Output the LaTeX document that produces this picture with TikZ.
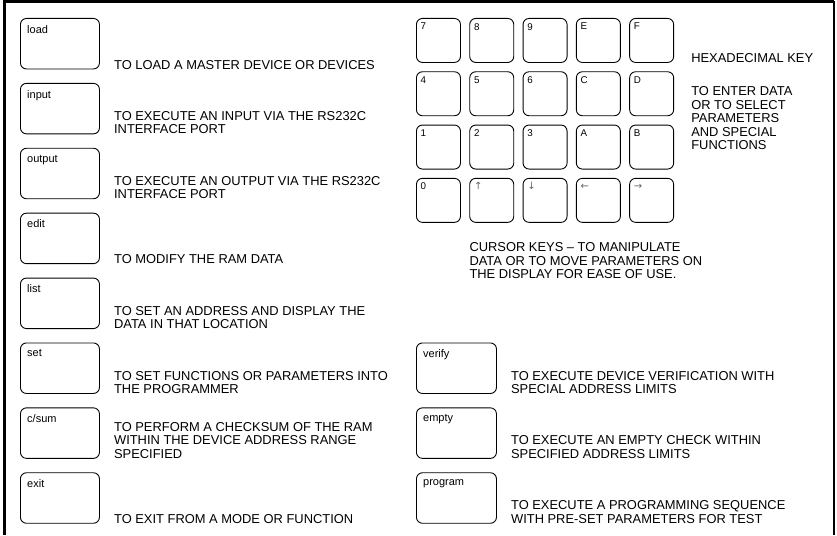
\documentclass[tikz,border=0pt]{standalone}
\usepackage{fontspec}
\setmainfont{Liberation Sans}
\newfontfamily\arrowfont{DejaVu Sans}
\usetikzlibrary{positioning}

\begin{document}
\begin{tikzpicture}[x=1pt,y=1pt, every node/.style={inner sep=0pt}]
  \def\fkw{79}
  \def\fkh{50.5}
  \def\hk{44}
  \def\leftx{20}
  \def\rightx{416}

  \tikzset{
    frame/.style={line width=2.6pt},
    fkey/.style={draw, line width=0.9pt, rounded corners=6pt, anchor=north west,
                 minimum width=\fkw pt, minimum height=\fkh pt},
    hkey/.style={draw, line width=0.9pt, rounded corners=6pt, anchor=north west,
                 minimum width=\hk pt, minimum height=\hk pt},
    flab/.style={anchor=north west, font=\fontsize{11}{13}\selectfont},
    hlab/.style={anchor=north west, font=\fontsize{9.8}{11}\selectfont},
    alab/.style={anchor=north west, font=\arrowfont\fontsize{10}{11}\selectfont, text=black!60},
    desc/.style={anchor=south west, align=left, font=\fontsize{12.9}{13.5}\selectfont}
  }

  % fixed page size
  \path[use as bounding box] (0,0) rectangle (837,-535);

  % outer frame, open at the bottom
  \draw[frame] (4.2,-535) -- (4.2,-1.5) -- (834,-1.5);
  \draw[line width=1.4pt] (834,-1.5) -- (834,-535);

  % function keys, left column
  \node[fkey] (kload)   at (\leftx, -18.0) {};
  \node[fkey] (kinput)  at (\leftx, -82.9) {};
  \node[fkey] (koutput) at (\leftx, -147.8) {};
  \node[fkey] (kedit)   at (\leftx, -212.7) {};
  \node[fkey] (klist)   at (\leftx, -277.6) {};
  \node[fkey] (kset)    at (\leftx, -342.5) {};
  \node[fkey] (kcsum)   at (\leftx, -407.4) {};
  \node[fkey] (kexit)   at (\leftx, -472.3) {};

  \node[flab] (lload)   at ([shift={(7,-7)}]kload.north west)   {load};
  \node[flab] (linput)  at ([shift={(7,-7)}]kinput.north west)  {input};
  \node[flab] (loutput) at ([shift={(7,-7)}]koutput.north west) {output};
  \node[flab] (ledit)   at ([shift={(7,-7)}]kedit.north west)   {edit};
  \node[flab] (llist)   at ([shift={(7,-7)}]klist.north west)   {list};
  \node[flab] (lset)    at ([shift={(7,-7)}]kset.north west)    {set};
  \node[flab] (lcsum)   at ([shift={(7,-7)}]kcsum.north west)   {c/sum};
  \node[flab] (lexit)   at ([shift={(7,-7)}]kexit.north west)   {exit};

  \node[desc] (dload)   at ([xshift=14pt]kload.south east)   {TO LOAD A MASTER DEVICE OR DEVICES};
  \node[desc] (dinput)  at ([xshift=14pt]kinput.south east)  {TO EXECUTE AN INPUT VIA THE RS232C\\INTERFACE PORT};
  \node[desc] (doutput) at ([xshift=14pt]koutput.south east) {TO EXECUTE AN OUTPUT VIA THE RS232C\\INTERFACE PORT};
  \node[desc] (dedit)   at ([xshift=14pt]kedit.south east)   {TO MODIFY THE RAM DATA};
  \node[desc] (dlist)   at ([xshift=14pt]klist.south east)   {TO SET AN ADDRESS AND DISPLAY THE\\DATA IN THAT LOCATION};
  \node[desc] (dset)    at ([xshift=14pt]kset.south east)    {TO SET FUNCTIONS OR PARAMETERS INTO\\THE PROGRAMMER};
  \node[desc] (dcsum)   at ([xshift=14pt]kcsum.south east)   {TO PERFORM A CHECKSUM OF THE RAM\\WITHIN THE DEVICE ADDRESS RANGE\\SPECIFIED};
  \node[desc] (dexit)   at ([xshift=14pt]kexit.south east)   {TO EXIT FROM A MODE OR FUNCTION};

  % hexadecimal keypad
  \node[hkey] (k7) at (416.0, -18.0) {};
  \node[hkey] (k8) at (469.3, -18.0) {};
  \node[hkey] (k9) at (522.6, -18.0) {};
  \node[hkey] (kE) at (575.9, -18.0) {};
  \node[hkey] (kF) at (629.2, -18.0) {};
  \node[hkey] (k4) at (416.0, -71.3) {};
  \node[hkey] (k5) at (469.3, -71.3) {};
  \node[hkey] (k6) at (522.6, -71.3) {};
  \node[hkey] (kC) at (575.9, -71.3) {};
  \node[hkey] (kD) at (629.2, -71.3) {};
  \node[hkey] (k1) at (416.0, -124.6) {};
  \node[hkey] (k2) at (469.3, -124.6) {};
  \node[hkey] (k3) at (522.6, -124.6) {};
  \node[hkey] (kA) at (575.9, -124.6) {};
  \node[hkey] (kB) at (629.2, -124.6) {};
  \node[hkey] (k0)     at (416.0, -177.9) {};
  \node[hkey] (kup)    at (469.3, -177.9) {};
  \node[hkey] (kdown)  at (522.6, -177.9) {};
  \node[hkey] (kleft)  at (575.9, -177.9) {};
  \node[hkey] (kright) at (629.2, -177.9) {};

  \node[hlab] (l7) at ([shift={(4.5,-5)}]k7.north west) {7};
  \node[hlab] (l8) at ([shift={(4.5,-5)}]k8.north west) {8};
  \node[hlab] (l9) at ([shift={(4.5,-5)}]k9.north west) {9};
  \node[hlab] (lE) at ([shift={(4.5,-5)}]kE.north west) {E};
  \node[hlab] (lF) at ([shift={(4.5,-5)}]kF.north west) {F};
  \node[hlab] (l4) at ([shift={(4.5,-5)}]k4.north west) {4};
  \node[hlab] (l5) at ([shift={(4.5,-5)}]k5.north west) {5};
  \node[hlab] (l6) at ([shift={(4.5,-5)}]k6.north west) {6};
  \node[hlab] (lC) at ([shift={(4.5,-5)}]kC.north west) {C};
  \node[hlab] (lD) at ([shift={(4.5,-5)}]kD.north west) {D};
  \node[hlab] (l1) at ([shift={(4.5,-5)}]k1.north west) {1};
  \node[hlab] (l2) at ([shift={(4.5,-5)}]k2.north west) {2};
  \node[hlab] (l3) at ([shift={(4.5,-5)}]k3.north west) {3};
  \node[hlab] (lA) at ([shift={(4.5,-5)}]kA.north west) {A};
  \node[hlab] (lB) at ([shift={(4.5,-5)}]kB.north west) {B};
  \node[hlab] (l0) at ([shift={(4.5,-5)}]k0.north west) {0};
  \node[alab] (lup)    at ([shift={(4.5,-4.5)}]kup.north west)    {↑};
  \node[alab] (ldown)  at ([shift={(4.5,-4.5)}]kdown.north west)  {↓};
  \node[alab] (lleft)  at ([shift={(4.5,-6.5)}]kleft.north west)  {←};
  \node[alab] (lright) at ([shift={(4.5,-6.5)}]kright.north west) {→};

  \node[desc] (dhex) at ([xshift=17pt]kF.south east) {HEXADECIMAL KEY};
  \node[desc, anchor=north west] (ddata) at ([yshift=-23.5pt]dhex.south west)
    {TO ENTER DATA\\OR TO SELECT\\PARAMETERS\\AND SPECIAL\\FUNCTIONS};
  \node[desc, anchor=north west] (dcursor) at ([yshift=-19.5pt]kup.south west)
    {CURSOR KEYS -- TO MANIPULATE\\DATA OR TO MOVE PARAMETERS ON\\THE DISPLAY FOR EASE OF USE.};

  % function keys, right column
  \node[fkey, minimum width=80pt] (kverify)  at (\rightx, -342.5) {};
  \node[fkey, minimum width=80pt] (kempty)   at (\rightx, -407.4) {};
  \node[fkey, minimum width=80pt] (kprogram) at (\rightx, -472.3) {};

  \node[flab] (lverify)  at ([shift={(7,-7)}]kverify.north west)  {verify};
  \node[flab] (lempty)   at ([shift={(7,-7)}]kempty.north west)   {empty};
  \node[flab] (lprogram) at ([shift={(7,-7)}]kprogram.north west) {program};

  \node[desc] (dverify)  at ([xshift=14pt]kverify.south east)  {TO EXECUTE DEVICE VERIFICATION WITH\\SPECIAL ADDRESS LIMITS};
  \node[desc] (dempty)   at ([xshift=14pt]kempty.south east)   {TO EXECUTE AN EMPTY CHECK WITHIN\\SPECIFIED ADDRESS LIMITS};
  \node[desc] (dprogram) at ([xshift=14pt]kprogram.south east) {TO EXECUTE A PROGRAMMING SEQUENCE\\WITH PRE-SET PARAMETERS FOR TEST};

\end{tikzpicture}
\end{document}
